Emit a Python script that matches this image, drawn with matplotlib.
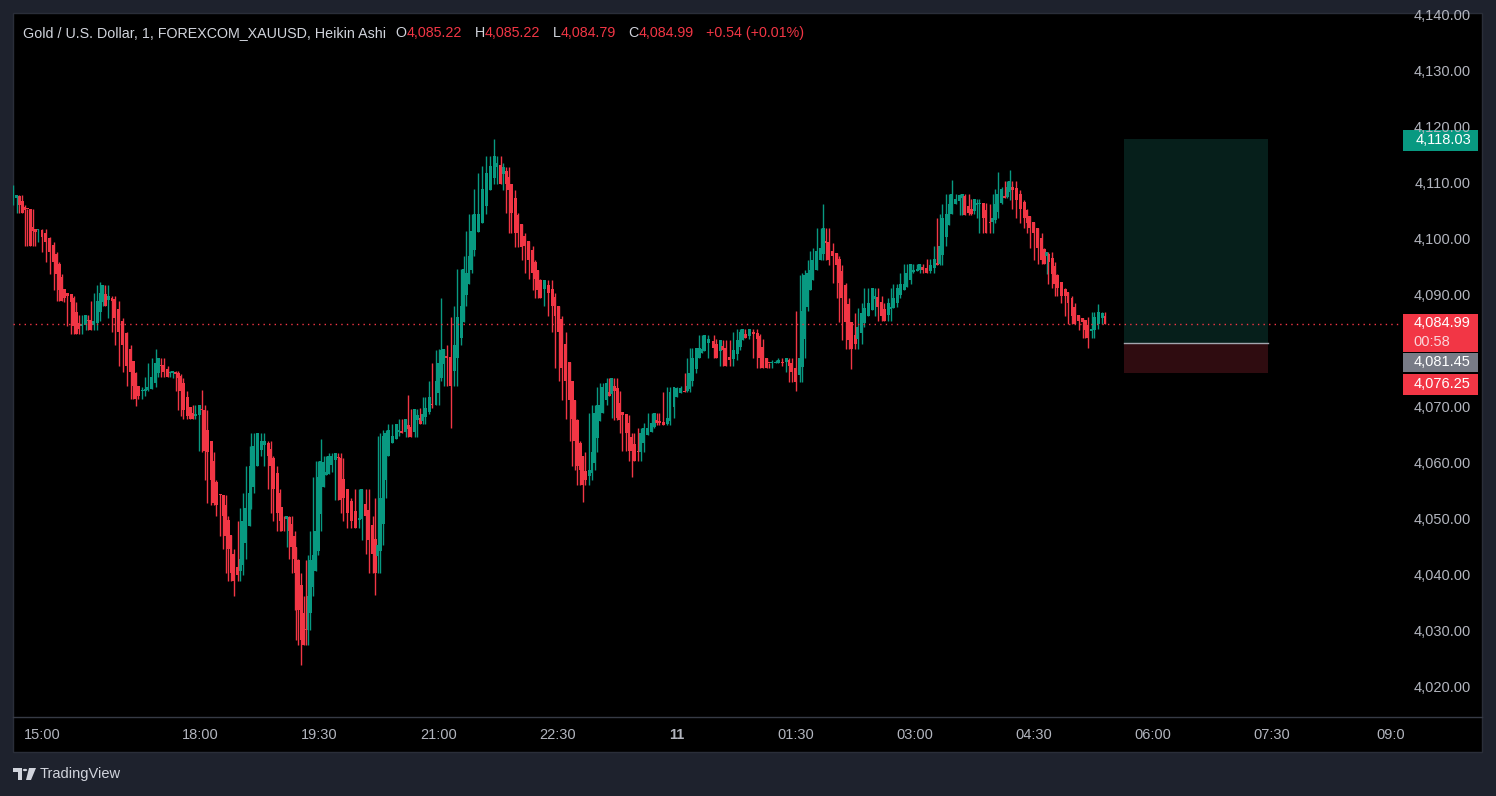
import matplotlib.pyplot as plt
from matplotlib.patches import Rectangle, Polygon, Circle
import numpy as np

# Heikin Ashi closes (XAUUSD, 1 min, FOREXCOM)
times = [
    "14:38", "14:41", "14:43", "14:45", "14:47", "14:49", "14:51", "14:53", "14:55", "14:57",
    "15:00", "15:03", "15:06", "15:09", "15:11", "15:13", "15:15", "15:17", "15:19", "15:22",
    "15:24", "15:26", "15:28", "15:30", "15:33", "15:35", "15:37", "15:39", "15:42", "15:44",
    "15:46", "15:48", "15:50", "15:53", "15:55", "15:58", "16:01", "16:04", "16:07", "16:09",
    "16:11", "16:13", "16:16", "16:18", "16:20", "16:23", "16:26", "16:28", "16:30", "16:32",
    "16:35", "16:37", "16:39", "16:41", "16:43", "16:45", "16:47", "16:50", "16:52", "16:54",
    "16:56", "16:59",
    "18:01", "18:03", "18:05", "18:08", "18:10", "18:12", "18:15", "18:17", "18:19", "18:21",
    "18:23", "18:25", "18:28", "18:30", "18:32", "18:34", "18:37", "18:38", "18:40", "18:43",
    "18:46", "18:48", "18:51", "18:53", "18:55", "18:58", "19:00", "19:01", "19:03", "19:05",
    "19:07", "19:09", "19:11", "19:12", "19:14", "19:16", "19:18", "19:20", "19:21", "19:23",
    "19:25", "19:27", "19:29", "19:31", "19:33", "19:35", "19:37", "19:39", "19:42", "19:44",
    "19:46", "19:48", "19:51", "19:54", "19:57", "20:00", "20:02", "20:05", "20:07", "20:10",
    "20:12", "20:14", "20:16", "20:18",
    "20:20", "20:22", "20:25", "20:28", "20:30", "20:32", "20:35", "20:37", "20:39", "20:42",
    "20:44", "20:46", "20:48", "20:50", "20:53", "20:55", "20:58", "21:00", "21:02", "21:04",
    "21:06", "21:09", "21:12", "21:14", "21:17", "21:19", "21:21", "21:23", "21:25", "21:27",
    "21:30", "21:33", "21:36", "21:39", "21:42", "21:44", "21:47", "21:49", "21:51", "21:53",
    "21:55", "21:58", "22:00", "22:03", "22:05", "22:08", "22:11", "22:13", "22:15", "22:17",
    "22:20", "22:23", "22:26", "22:28", "22:31", "22:33", "22:36",
    "22:39", "22:41", "22:43", "22:45", "22:47", "22:49", "22:51", "22:54", "22:56", "22:58",
    "23:00", "23:02", "23:04", "23:07", "23:09", "23:11", "23:13", "23:15", "23:17", "23:19",
    "23:22", "23:24", "23:26", "23:28", "23:31", "23:33", "23:35", "23:38", "23:41", "23:43",
    "23:45", "23:47", "23:50", "23:53", "23:55", "23:58", "00:00", "00:03", "00:06", "00:08",
    "00:10", "00:12", "00:15", "00:17", "00:19", "00:21", "00:24", "00:28", "00:30", "00:33",
    "00:35", "00:37", "00:40", "00:43", "00:46", "00:48", "00:50", "00:52", "00:55", "00:58",
    "01:01", "01:03", "01:05", "01:08", "01:10", "01:12", "01:15", "01:17", "01:20", "01:23",
    "01:25", "01:27", "01:30", "01:33", "01:35", "01:37", "01:39", "01:41", "01:43", "01:46",
    "01:49", "01:51", "01:53", "01:55", "01:58", "02:01", "02:03", "02:05", "02:08", "02:10",
    "02:12", "02:15", "02:17", "02:20", "02:22", "02:25", "02:28", "02:30", "02:32", "02:35",
    "02:37", "02:40", "02:42", "02:44", "02:47", "02:49", "02:52", "02:54", "02:57", "02:59",
    "03:02", "03:04", "03:06", "03:09", "03:12", "03:15", "03:17", "03:19",
    "03:21", "03:24", "03:26", "03:28", "03:31", "03:34", "03:36", "03:38", "03:41", "03:43",
    "03:45", "03:47", "03:49", "03:52", "03:54", "03:57", "03:59", "04:01", "04:03", "04:06",
    "04:08", "04:10", "04:12", "04:14", "04:17", "04:20", "04:23", "04:25", "04:27", "04:30",
    "04:33", "04:36", "04:38", "04:40", "04:41", "04:44", "04:46", "04:48", "04:51", "04:54",
    "04:56", "04:59", "05:01", "05:04", "05:07", "05:09", "05:11", "05:14", "05:16", "05:19",
    "05:22", "05:24",
]
ha_close = [
    4107.5, 4107.9, 4106.1, 4104.8, 4105.2, 4105.5, 4098.9, 4101.6, 4101.4, 4101.9,
    4100.4, 4099.5, 4097.7, 4095.9, 4093.9, 4090.9, 4089.1, 4089.6, 4090.0, 4088.9,
    4084.6, 4083.2, 4084.1, 4085.0, 4086.6, 4085.4, 4083.9, 4085.5, 4089.1, 4090.5,
    4091.8, 4088.2, 4090.0, 4089.1, 4085.9, 4083.4, 4081.1, 4077.5, 4076.3, 4073.9,
    4071.6, 4072.0, 4073.0, 4073.3, 4073.6, 4075.5, 4078.0, 4078.8, 4077.5, 4076.3,
    4075.4, 4076.3, 4076.6, 4075.9, 4075.2, 4073.0, 4069.5, 4068.4, 4068.0, 4067.9,
    4068.9, 4070.5,
    4069.5, 4062.3, 4062.0, 4057.0, 4053.0, 4052.5, 4054.3, 4050.7, 4047.1, 4044.8,
    4040.5, 4039.1, 4040.0, 4043.0, 4049.8, 4052.0, 4054.8, 4059.6, 4063.2, 4065.4,
    4064.1, 4064.1, 4061.4, 4059.5, 4055.5, 4051.2, 4049.8, 4048.0, 4050.0, 4050.7,
    4048.0, 4045.0, 4043.0, 4040.5, 4033.8, 4028.4, 4027.5, 4030.2, 4036.4, 4042.7,
    4043.6, 4048.0, 4057.5, 4060.5, 4060.2, 4058.4, 4061.4, 4061.4, 4061.8, 4060.9,
    4053.4, 4053.8, 4051.1, 4049.8, 4048.4, 4050.2, 4055.5, 4050.7, 4046.3, 4043.9,
    4040.5, 4045.4, 4053.8, 4065.0,
    4065.5, 4065.9, 4065.0, 4067.0, 4065.9, 4065.5, 4068.0, 4066.2, 4064.8, 4069.8,
    4068.6, 4067.1, 4068.8, 4070.0, 4071.8, 4070.4, 4074.8, 4078.0, 4080.2, 4080.5,
    4078.8, 4073.9, 4081.1, 4086.1, 4088.2, 4094.8, 4094.1, 4097.1, 4101.6, 4104.6,
    4104.6, 4109.1, 4111.8, 4113.2, 4115.0, 4113.6, 4110.0, 4112.9, 4110.0, 4108.8,
    4104.8, 4101.2, 4101.2, 4098.6, 4098.9, 4096.3, 4094.1, 4093.0, 4090.9, 4089.5,
    4092.7, 4090.4, 4088.2, 4086.4, 4083.4, 4077.0, 4074.8,
    4071.3, 4068.0, 4064.1, 4059.6, 4058.9, 4056.1, 4057.0, 4058.8, 4062.0, 4069.1,
    4070.4, 4070.4, 4073.6, 4074.3, 4072.1, 4075.2, 4073.0, 4068.2, 4067.7, 4068.6,
    4065.5, 4062.3, 4062.3, 4060.5, 4062.0, 4065.4, 4066.3, 4066.4, 4067.3, 4069.1,
    4067.3, 4067.3, 4066.8, 4068.2, 4072.7, 4073.6, 4073.4, 4073.4, 4072.7, 4073.9,
    4076.1, 4078.9, 4080.7, 4080.7, 4080.4, 4082.9, 4082.3, 4080.7, 4078.9, 4082.0,
    4080.2, 4077.5, 4078.4, 4080.2, 4082.0, 4083.4, 4084.1, 4082.5, 4084.1, 4083.2,
    4082.3, 4078.8, 4077.0, 4077.1, 4077.9, 4078.0, 4078.0, 4078.4, 4077.9, 4078.8,
    4077.5, 4076.3, 4074.5, 4078.8, 4087.3, 4093.6, 4094.1, 4094.5, 4096.3, 4098.0,
    4098.4, 4102.1, 4099.3, 4096.3, 4097.1, 4095.4, 4092.3, 4089.5, 4085.2, 4082.0,
    4080.5, 4081.4, 4084.3, 4086.8, 4087.7, 4088.6, 4091.4, 4090.0, 4087.9, 4086.4,
    4085.5, 4088.6, 4087.9, 4089.5, 4091.4, 4092.1, 4092.1, 4094.1, 4095.7, 4094.5,
    4094.8, 4095.7, 4094.5, 4094.1, 4095.4, 4096.6, 4095.4, 4098.9,
    4103.8, 4104.6, 4106.4, 4108.2, 4107.3, 4107.9, 4108.2, 4104.3, 4104.8, 4104.6,
    4107.3, 4106.6, 4106.6, 4103.9, 4101.2, 4102.9, 4103.9, 4106.4, 4108.2, 4109.1,
    4107.5, 4109.3, 4110.4, 4108.8, 4107.0, 4105.5, 4103.9, 4103.0, 4102.0, 4101.2,
    4098.4, 4096.3, 4095.7, 4097.7, 4095.9, 4093.9, 4092.1, 4091.3, 4090.0, 4090.0,
    4088.6, 4086.4, 4085.0, 4085.5, 4085.2, 4083.8, 4082.5, 4084.1, 4086.1, 4087.0,
    4086.8, 4084.99,
]

# long wicks visible on the chart
spike_times = ["14:38", "15:44", "16:11", "16:26", "18:01", "18:25", "19:16", "19:31",
               "20:12", "20:37", "21:02", "21:09", "21:42", "22:49", "23:26", "01:30",
               "01:51", "02:12", "03:28", "04:03", "04:12", "05:11", "05:19"]
spike_prices = [4109.8, 4092.5, 4070.2, 4080.4, 4073.2, 4036.3, 4024.1, 4064.3,
                4036.6, 4072.3, 4089.6, 4066.4, 4118.0, 4053.2, 4057.5, 4072.9,
                4106.3, 4076.8, 4110.7, 4112.0, 4112.5, 4080.7, 4088.4]

price_ticks = [4020, 4030, 4040, 4050, 4060, 4070, 4090, 4100, 4110, 4120, 4130, 4140]
tick_times = ["15:00", "18:00", "19:30", "21:00", "22:30", "00:00", "01:30", "03:00",
              "04:30", "06:00", "07:30", "09:00"]
tick_labels = ["15:00", "18:00", "19:30", "21:00", "22:30", "11", "01:30", "03:00",
               "04:30", "06:00", "07:30", "09:0"]

last_price = 4084.99
countdown = "00:58"
pos_entry, pos_target, pos_stop = 4081.45, 4118.03, 4076.25
pos_start, pos_end = "05:38", "07:27"

GREEN = "#089981"
RED = "#f23645"
TXT = "#b2b5be"
BG = "#1e222d"
W, H = 1496, 796


def trade_min(hhmm):
    # minutes after 15:00, skipping the 17:00-18:00 daily break
    h, m = map(int, hhmm.split(":"))
    mins = h * 60 + m
    if mins < 14 * 60:
        mins += 1440
    t = mins - 15 * 60
    if mins >= 18 * 60:
        t -= 60
    return t


def fx(px):
    return px / W


def fy(py):
    return 1 - py / H


fig = plt.figure(figsize=(W / 100, H / 100), dpi=100, facecolor=BG)
plt.rcParams["font.family"] = ["Liberation Sans", "DejaVu Sans"]

# black chart panel
fig.patches.append(Rectangle((fx(13), fy(752)), fx(1482 - 13), (752 - 13) / H,
                             transform=fig.transFigure, facecolor="black",
                             edgecolor="#2a2e39", lw=1, zorder=-5))
fig.lines.append(plt.Line2D([fx(13), fx(1482)], [fy(717), fy(717)],
                            transform=fig.transFigure, color="#363a45", lw=1))

ax = fig.add_axes([fx(13), fy(717), fx(1402 - 13), (717 - 13) / H])
ax.set_facecolor("none")
ax.set_xlim(-21.9, 1028.6)
ax.set_ylim(4014.73, 4140.45)
ax.axis("off")

# Heikin Ashi candles
t = np.array([trade_min(s) for s in times], dtype=float)
c = np.array(ha_close)
o = np.empty_like(c)
o[0] = c[0]
for i in range(1, len(c)):
    o[i] = (o[i - 1] + c[i - 1]) / 2
# each sampled candle covers the closes around it
pad = np.r_[[c[0]] * 2, c, [c[-1]] * 2]
window = np.array([pad[k:k + len(c)] for k in range(5)])
hi = np.maximum(np.maximum(o, c), window.max(axis=0))
lo = np.minimum(np.minimum(o, c), window.min(axis=0))
for st, sp in zip(spike_times, spike_prices):
    k = np.argmin(np.abs(t - trade_min(st)))
    hi[k] = max(hi[k], sp)
    lo[k] = min(lo[k], sp)
cols = np.where(c >= o, GREEN, RED)
ax.vlines(t, lo, hi, colors=cols, lw=1.0)
ax.bar(t, np.maximum(np.abs(c - o), 0.15), bottom=np.minimum(o, c), width=2.2,
       color=cols, linewidth=0)

# long position tool
t0, t1 = trade_min(pos_start), trade_min(pos_end)
ax.add_patch(Rectangle((t0, pos_entry), t1 - t0, pos_target - pos_entry,
                       facecolor="#061f1b", edgecolor="none"))
ax.add_patch(Rectangle((t0, pos_stop), t1 - t0, pos_entry - pos_stop,
                       facecolor="#2f0c10", edgecolor="none"))
ax.plot([t0, t1], [pos_entry, pos_entry], color="#a3a6af", lw=1)

# last price line
ax.axhline(last_price, color=RED, lw=1, linestyle=(0, (1, 3)))

# price axis labels
to_py = lambda p: 687.5 - (p - 4020) * 5.6
for p in price_ticks:
    fig.text(fx(1471), fy(to_py(p)), f"{p:,.2f}", ha="right", va="center",
             color=TXT, fontsize=10.5)

# price tags
def tag(top, bottom, col, lines):
    fig.patches.append(Rectangle((fx(1403), fy(bottom)), fx(1478 - 1403), (bottom - top) / H,
                                 transform=fig.transFigure, facecolor=col, edgecolor="none",
                                 zorder=3))
    n = len(lines)
    step = (bottom - top) / n
    for j, (s, tc, ha) in enumerate(lines):
        x = 1471 if ha == "right" else 1413
        fig.text(fx(x), fy(top + step * (j + 0.5)), s, ha=ha, va="center", color=tc,
                 fontsize=10.5, zorder=4)

yt = to_py(pos_target)
tag(yt - 9, yt + 12, GREEN, [(f"{pos_target:,.2f}", "white", "right")])
yl = to_py(last_price)
tag(yl - 10, yl + 28, RED, [(f"{last_price:,.2f}", "white", "right"),
                            (countdown, "#fbd5d9", "left")])
tag(yl + 29, yl + 48, "#787b86", [(f"{pos_entry:,.2f}", "white", "right")])
tag(yl + 50, yl + 71, RED, [(f"{pos_stop:,.2f}", "white", "right")])

# time axis labels
for s, lab in zip(tick_times, tick_labels):
    x = 42 + trade_min(s) * 1.3222
    fig.text(fx(x), fy(735), lab, ha="center", va="center", color=TXT, fontsize=10.5,
             fontweight="bold" if lab == "11" else "normal")

# legend line at top
prev = fig.text(fx(23), fy(33), "Gold / U.S. Dollar, 1, FOREXCOM_XAUUSD, Heikin Ashi",
                color="#d1d4dc", fontsize=10.3, va="center")
pieces = [("O", "#d1d4dc", 7), ("4,085.22", RED, 0), ("H", "#d1d4dc", 9),
          ("4,085.22", RED, 0), ("L", "#d1d4dc", 9), ("4,084.79", RED, 0),
          ("C", "#d1d4dc", 9), ("4,084.99", RED, 0), ("+0.54 (+0.01%)", RED, 9)]
for s, col, gap in pieces:
    prev = ax.annotate(s, xy=(1, 0.5), xycoords=prev, xytext=(gap, 0),
                       textcoords="offset points", va="center", color=col, fontsize=10.3,
                       annotation_clip=False)

# TradingView logo
fig.patches.append(Polygon([(fx(13), fy(768)), (fx(22), fy(768)), (fx(22), fy(780)),
                            (fx(18), fy(780)), (fx(18), fy(772)), (fx(13), fy(772))],
                           closed=True, transform=fig.transFigure, facecolor="#d1d4dc"))
fig.patches.append(Circle((fx(25), fy(770)), 2.2 / W, transform=fig.transFigure,
                          facecolor="#d1d4dc"))
fig.patches.append(Polygon([(fx(29), fy(768)), (fx(36), fy(768)), (fx(31), fy(780)),
                            (fx(26), fy(780))], closed=True, transform=fig.transFigure,
                           facecolor="#d1d4dc"))
fig.text(fx(40), fy(774), "TradingView", color="#d1d4dc", fontsize=10.5, va="center")

fig.savefig("out.png", dpi=100, facecolor=BG)
